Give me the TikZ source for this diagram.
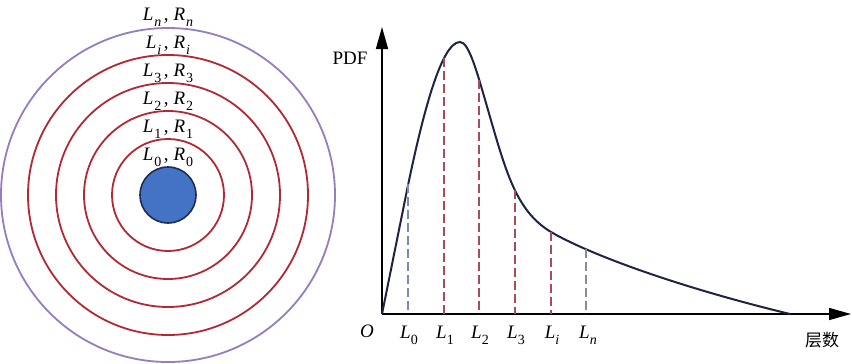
\documentclass[tikz,border=0pt]{standalone}
\usepackage{fontspec}
\setmainfont{Liberation Serif}
\newfontfamily\cjk{Noto Sans CJK SC}
\usetikzlibrary{arrows.meta}
\definecolor{ringred}{RGB}{178,40,52}
\definecolor{outerpurple}{RGB}{150,125,190}
\definecolor{corefill}{RGB}{68,114,196}
\definecolor{coreline}{RGB}{30,45,85}
\definecolor{curvecol}{RGB}{30,35,65}
\definecolor{dashred}{RGB}{170,75,90}
\definecolor{dashblue}{RGB}{120,140,175}
\definecolor{dashgray}{RGB}{140,140,150}
\newcommand\sbs[1]{\raisebox{-0.33em}{\fontsize{14}{14}\selectfont #1}}
\newcommand\lr[1]{\textit{L}\kern1pt\sbs{#1}\kern2.5pt,\kern5pt\textit{R}\kern1pt\sbs{#1}}
\tikzset{
  ring/.style={draw=ringred, line width=1.8pt},
  lbl/.style={font=\fontsize{19}{19}\selectfont, anchor=base, inner sep=0pt},
  vline/.style={line width=1.3pt, dash pattern=on 9pt off 4pt},
  axis/.style={line width=1.5pt, -{Triangle[length=22pt,width=12pt]}},
}
\begin{document}
\begin{tikzpicture}[x=1pt,y=-1pt]
\useasboundingbox (0,0) rectangle (852,364);
% concentric circles
\coordinate (c) at (168,195);
\draw[draw=outerpurple, line width=1.8pt] (c) circle[radius=167];
\foreach \r in {56,84,112,140} \draw[ring] (c) circle[radius=\r];
\draw[fill=corefill, draw=coreline, line width=1.6pt] (c) circle[radius=28];
% ring labels
\node[lbl] (r0) at (168,160) {\lr{0}};
\node[lbl] (r1) at (168,132) {\lr{1}};
\node[lbl] (r2) at (168,104) {\lr{2}};
\node[lbl] (r3) at (168,76) {\lr{3}};
\node[lbl] (ri) at (168,48) {\lr{\textit{i}}};
\node[lbl] (rn) at (168,20) {\lr{\textit{n}}};
% axes
\coordinate (O) at (382,314);
\coordinate (ytip) at (382,27);
\coordinate (xtip) at (851,314);
\draw[axis] (O) -- (ytip);
\draw[axis] (O) -- (xtip);
\node[lbl] (pdf) at (350,64) {PDF};
\node[lbl] (olbl) at (367,337) {\textit{O}};
\node[anchor=center, inner sep=0pt, font=\fontsize{17}{17}\selectfont\cjk] (cs) at (822,340) {层数};
% curve
\coordinate (k1) at (404,205);
\coordinate (peak) at (460,42);
\coordinate (k2) at (488,110);
\coordinate (pi) at (551,232);
\coordinate (cend) at (790,314);
\draw[curvecol, line width=2pt, line join=round]
  (O) -- (k1)
  .. controls (420,125) and (440,42) .. (peak)
  .. controls (469,42) and (477,72) .. (k2)
  .. controls (506,172) and (516,211) .. (pi)
  .. controls (585,252) and (670,285) .. (cend);
% dashed lines
\coordinate (p0) at (408,184);
\coordinate (p1) at (444,58);
\coordinate (p2) at (479,80);
\coordinate (p3) at (515,190);
\coordinate (pn) at (586,249);
\foreach \p/\c in {p0/dashblue,p1/dashred,p2/dashred,p3/dashred,pi/dashred,pn/dashgray}
  \draw[vline, draw=\c] (\p) -- (\p |- O);
% axis labels
\node[lbl] (l0) at (409,338) {\textit{L}\sbs{0}};
\node[lbl] (l1) at (445,338) {\textit{L}\sbs{1}};
\node[lbl] (l2) at (480,338) {\textit{L}\sbs{2}};
\node[lbl] (l3) at (516,338) {\textit{L}\sbs{3}};
\node[lbl] (li) at (552,338) {\textit{L}\sbs{\textit{i}}};
\node[lbl] (ln) at (588,338) {\textit{L}\sbs{\textit{n}}};
\end{tikzpicture}
\end{document}
